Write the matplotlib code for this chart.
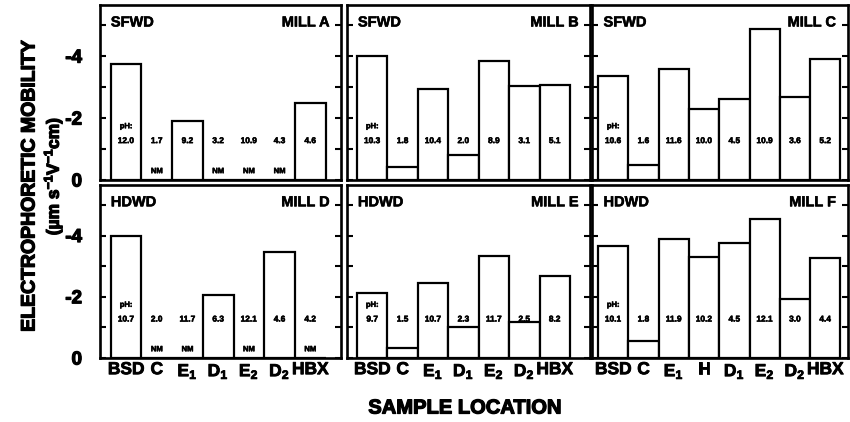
import matplotlib

matplotlib.use("Agg")
import matplotlib.pyplot as plt
import matplotlib.patheffects as pe

plt.rcParams["font.family"] = ["Liberation Sans", "DejaVu Sans"]
plt.rcParams["font.weight"] = "bold"
plt.rcParams["mathtext.fontset"] = "custom"
plt.rcParams["mathtext.rm"] = "Liberation Sans:bold"
plt.rcParams["mathtext.it"] = "Liberation Sans:bold"
plt.rcParams["mathtext.bf"] = "Liberation Sans:bold"

# data (electrophoretic mobility, µm s^-1 V^-1 cm); None = not measured
cats7 = ["BSD", "C", "E$_1$", "D$_1$", "E$_2$", "D$_2$", "HBX"]
cats8 = ["BSD", "C", "E$_1$", "H", "D$_1$", "E$_2$", "D$_2$", "HBX"]

mill_names = ["MILL A", "MILL B", "MILL C", "MILL D", "MILL E", "MILL F"]
wood_types = ["SFWD", "SFWD", "SFWD", "HDWD", "HDWD", "HDWD"]

mob_a = [-3.75, None, -1.91, None, None, None, -2.49]
mob_b = [-4.01, -0.43, -2.95, -0.81, -3.85, -3.04, -3.06]
mob_c = [-3.35, -0.48, -3.58, -2.30, -2.63, -4.87, -2.69, -3.92]
mob_d = [-3.97, None, None, -2.06, None, -3.46, None]
mob_e = [-2.13, -0.32, -2.46, -1.01, -3.33, -1.16, -2.69]
mob_f = [-3.66, -0.56, -3.90, -3.30, -3.74, -4.55, -1.94, -3.28]

ph_a = ["12.0", "1.7", "9.2", "3.2", "10.9", "4.3", "4.6"]
ph_b = ["10.3", "1.8", "10.4", "2.0", "8.9", "3.1", "5.1"]
ph_c = ["10.6", "1.6", "11.6", "10.0", "4.5", "10.9", "3.6", "5.2"]
ph_d = ["10.7", "2.0", "11.7", "6.3", "12.1", "4.6", "4.2"]
ph_e = ["9.7", "1.5", "10.7", "2.3", "11.7", "2.5", "8.2"]
ph_f = ["10.1", "1.8", "11.9", "10.2", "4.5", "12.1", "3.0", "4.4"]

mobilities = [mob_a, mob_b, mob_c, mob_d, mob_e, mob_f]
ph_values = [ph_a, ph_b, ph_c, ph_d, ph_e, ph_f]
categories = [cats7, cats7, cats8, cats7, cats7, cats8]

W, H = 850, 422
fig = plt.figure(figsize=(W / 100, H / 100), dpi=100)

heavy = [pe.withStroke(linewidth=0.9, foreground="black")]
medium = [pe.withStroke(linewidth=0.6, foreground="black")]
light = [pe.withStroke(linewidth=0.4, foreground="black")]

# panel boxes in pixels: (left, right) per column, (top, bottom) per row
cols = [(100, 341), (347, 590), (592, 848)]
rows = [(5, 180), (185, 358)]
xlims = [(-0.85, 7.0), (-0.83, 7.16), (-0.7, 7.75)]

for k in range(6):
    r, c = divmod(k, 3)
    x0, x1 = cols[c]
    y0, y1 = rows[r]
    ax = fig.add_axes([x0 / W, 1 - y1 / H, (x1 - x0) / W, (y1 - y0) / H])

    vals = mobilities[k]
    cats = categories[k]
    xs = list(range(len(cats)))
    heights = [v if v is not None else 0 for v in vals]
    ax.bar(xs, heights, width=1.0, color="white", edgecolor="black",
           linewidth=1.6, zorder=2)

    for i, (v, p) in enumerate(zip(vals, ph_values[k])):
        ax.text(i, -1.24, p, ha="center", va="center", fontsize=6,
                fontweight="bold", zorder=3, path_effects=light)
        if v is None:
            ax.text(i, -0.27, "NM", ha="center", va="center", fontsize=5.5,
                    fontweight="bold", zorder=3, path_effects=light)
    ax.text(0, -1.72, "pH:", ha="center", va="center", fontsize=5.5,
            fontweight="bold", zorder=3, path_effects=light)

    ax.set_ylim(0, -5.65)
    ax.set_xlim(*xlims[c])

    ax.text(0.045, 0.9, wood_types[k], transform=ax.transAxes, ha="left",
            va="center", fontsize=10.5, fontweight="bold",
            path_effects=light)
    ax.text(0.955, 0.9, mill_names[k], transform=ax.transAxes, ha="right",
            va="center", fontsize=10.5, fontweight="bold",
            path_effects=light)

    ax.set_yticks([0, -2, -4])
    ax.set_yticks([-1, -3, -5], minor=True)
    ax.tick_params(axis="y", which="both", direction="in", left=True,
                   right=True, length=4, width=1.5)
    if c == 0:
        ax.set_yticklabels(["0", "-2", "-4"], fontsize=13.5)
        ax.tick_params(axis="y", pad=13)
        for t in ax.get_yticklabels():
            t.set_path_effects(heavy)
    else:
        ax.set_yticklabels([])

    ax.set_xticks(xs)
    if r == 1:
        ax.set_xticklabels(cats, fontsize=12.5)
        for t in ax.get_xticklabels():
            t.set_path_effects(medium)
    else:
        ax.set_xticklabels([])
    ax.tick_params(axis="x", length=0, pad=3)

    for s in ax.spines.values():
        s.set_linewidth(1.9)

fig.text(30 / W, 1 - 186 / H, "ELECTROPHORETIC MOBILITY", rotation=90,
         ha="center", va="center", fontsize=14, fontweight="bold",
         path_effects=heavy)
fig.text(53 / W, 1 - 176 / H, "(µm s$^{-1}$V$^{-1}$cm)", rotation=90,
         ha="center", va="center", fontsize=12.5, fontweight="bold",
         path_effects=heavy)
fig.text(465 / W, 1 - 408 / H, "SAMPLE LOCATION", ha="center", va="center",
         fontsize=14.5, fontweight="bold", path_effects=heavy)

fig.savefig("out.png", dpi=100)
